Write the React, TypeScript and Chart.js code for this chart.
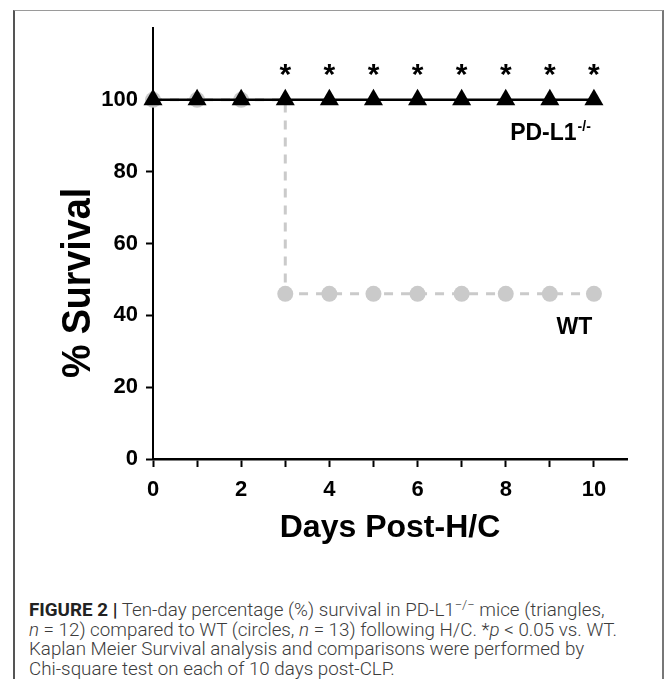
import React, { useEffect, useRef } from 'react';
import { Chart, registerables } from 'chart.js';

Chart.register(...registerables);

// ---- data ----
const days = [0, 1, 2, 3, 4, 5, 6, 7, 8, 9, 10];
const pdl1Survival = [100, 100, 100, 100, 100, 100, 100, 100, 100, 100, 100];
const wtSurvival = [100, 100, 100, 46, 46, 46, 46, 46, 46, 46, 46];
const significantDays = [3, 4, 5, 6, 7, 8, 9, 10];
const xTickValues = [0, 1, 2, 3, 4, 5, 6, 7, 8, 9, 10];
const yTickValues = [0, 20, 40, 60, 80, 100];
const seriesNames = ['PD-L1', 'WT'];
const seriesSuperscripts = ['-/-', ''];
const xAxisTitle = 'Days Post-H/C';
const yAxisTitle = '% Survival';

const FONT = '"Liberation Sans", Arial, Helvetica, sans-serif';

const textPlugin = {
  id: 'customText',
  afterDraw(chart: any) {
    const ctx = chart.ctx;
    const xs = chart.scales.x;
    const ys = chart.scales.y;
    const area = chart.chartArea;
    ctx.save();
    ctx.fillStyle = '#000';

    // significance stars
    ctx.font = `bold 30px ${FONT}`;
    ctx.textAlign = 'center';
    ctx.textBaseline = 'alphabetic';
    for (const d of significantDays) {
      const x = xs.getPixelForValue(d);
      const y = ys.getPixelForValue(109);
      ctx.fillText('*', x, y + 16);
    }

    // series labels
    ctx.font = `bold 23px ${FONT}`;
    ctx.textAlign = 'left';
    const px = xs.getPixelForValue(8.1);
    const py = ys.getPixelForValue(88.9);
    ctx.fillText(seriesNames[0], px, py);
    const w = ctx.measureText(seriesNames[0]).width;
    ctx.font = `bold 14px ${FONT}`;
    ctx.fillText(seriesSuperscripts[0], px + w + 1, py - 9);

    ctx.font = `bold 23px ${FONT}`;
    ctx.fillText(seriesNames[1], xs.getPixelForValue(9.15), ys.getPixelForValue(34.8));

    // x axis title
    ctx.font = `bold 32px ${FONT}`;
    ctx.textAlign = 'center';
    ctx.textBaseline = 'alphabetic';
    ctx.fillText(xAxisTitle, (area.left + area.right) / 2, area.bottom + 78);

    // y axis title
    ctx.save();
    ctx.translate(area.left - 63.5, ys.getPixelForValue(49));
    ctx.rotate(-Math.PI / 2);
    ctx.scale(0.94, 1);
    ctx.font = `bold 40px ${FONT}`;
    ctx.textAlign = 'center';
    ctx.textBaseline = 'alphabetic';
    ctx.fillText(yAxisTitle, 0, 0);
    ctx.restore();

    ctx.restore();
  },
};

function SurvivalChart() {
  const ref = useRef<HTMLCanvasElement | null>(null);
  useEffect(() => {
    if (!ref.current) return;
    const tickFont = { family: FONT, size: 22, weight: 'bold' as const };
    const chart = new Chart(ref.current, {
      type: 'line',
      data: {
        datasets: [
          {
            label: seriesNames[0],
            data: days.map((d, i) => ({ x: d, y: pdl1Survival[i] })),
            borderColor: '#000',
            borderWidth: 2.5,
            pointStyle: 'triangle',
            pointRadius: 11,
            pointBackgroundColor: '#000',
            pointBorderColor: '#000',
            pointBorderWidth: 0,
            clip: false,
            order: 0,
          },
          {
            label: seriesNames[1],
            data: days.map((d, i) => ({ x: d, y: wtSurvival[i] })),
            borderColor: '#cacaca',
            borderWidth: 3,
            borderDash: [9, 8],
            stepped: 'before',
            pointStyle: 'circle',
            pointRadius: 8,
            pointBackgroundColor: '#cacaca',
            pointBorderColor: '#cacaca',
            pointBorderWidth: 0,
            clip: false,
            order: 1,
          },
        ] as any,
      },
      options: {
        animation: false,
        responsive: false,
        maintainAspectRatio: false,
        layout: { padding: { left: 0, right: 42, top: 28, bottom: 0 } },
        plugins: { legend: { display: false }, tooltip: { enabled: false } },
        scales: {
          x: {
            type: 'linear',
            min: 0,
            max: 10.75,
            afterBuildTicks: (s: any) => {
              s.ticks = xTickValues.map((v) => ({ value: v }));
            },
            afterFit: (s: any) => {
              s.height = 101;
            },
            ticks: {
              callback: (v: any) => (Number(v) % 2 === 0 ? String(v) : ''),
              font: tickFont,
              color: '#000',
              padding: 10,
              maxRotation: 0,
              autoSkip: false,
            },
            grid: {
              drawOnChartArea: false,
              drawTicks: true,
              tickLength: 8,
              tickWidth: 2,
              tickColor: '#000',
            },
            border: { display: true, color: '#000', width: 2.5 },
          },
          y: {
            type: 'linear',
            min: 0,
            max: 120,
            afterBuildTicks: (s: any) => {
              s.ticks = yTickValues.map((v) => ({ value: v }));
            },
            afterFit: (s: any) => {
              s.width = 153;
            },
            ticks: {
              font: tickFont,
              color: '#000',
              padding: 8,
              autoSkip: false,
            },
            grid: {
              drawOnChartArea: false,
              drawTicks: true,
              tickLength: 7,
              tickWidth: 2,
              tickColor: '#000',
            },
            border: { display: true, color: '#000', width: 2 },
          },
        },
      } as any,
      plugins: [textPlugin],
    });
    return () => chart.destroy();
  }, []);
  return (
    <canvas
      ref={ref}
      width={669}
      height={560}
      style={{ position: 'absolute', left: 0, top: 0, width: 669, height: 560 }}
    />
  );
}

export default function App() {
  const captionStyle: React.CSSProperties = {
    position: 'absolute',
    left: 29,
    top: 601,
    width: 630,
    fontFamily: 'Roboto, "Liberation Sans", Arial, sans-serif',
    fontWeight: 300,
    fontSize: 18.8,
    lineHeight: '19.6px',
    color: '#3c3c3c',
    whiteSpace: 'nowrap',
    margin: 0,
  };
  return (
    <div
      style={{
        position: 'absolute',
        left: 0,
        top: 0,
        width: 669,
        height: 679,
        overflow: 'hidden',
        background: '#fff',
      }}
    >
      <div
        style={{
          position: 'absolute',
          left: 13,
          top: 10,
          width: 647,
          height: 720,
          borderTop: '1.5px solid #9a9a9a',
          borderLeft: '2px solid #555',
          borderRight: '2px solid #777',
        }}
      />
      <SurvivalChart />
      <div style={captionStyle}>
        <b style={{ fontWeight: 700, color: '#222' }}>FIGURE 2 |</b> Ten-day percentage (%) survival in PD-L1
        <sup style={{ fontSize: 13, verticalAlign: 7, lineHeight: 0 }}>−/−</sup> mice (triangles,
        <br />
        <i>n</i> = 12) compared to WT (circles, <i>n</i> = 13) following H/C. *<i>p</i> &lt; 0.05 vs. WT.
        <br />
        Kaplan Meier Survival analysis and comparisons were performed by
        <br />
        Chi-square test on each of 10 days post-CLP.
      </div>
    </div>
  );
}
